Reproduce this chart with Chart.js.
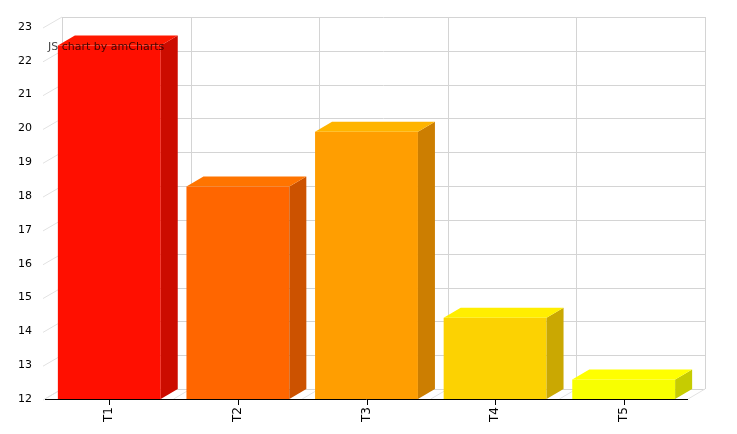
<!DOCTYPE html>
<html>
<head>
<meta charset="utf-8">
<script src="https://cdn.jsdelivr.net/npm/chart.js@4/dist/chart.umd.min.js"></script>
<style>
  html, body { margin: 0; padding: 0; background: #fff; }
  canvas { display: block; }
</style>
</head>
<body>
<canvas id="myChart" width="737" height="434"></canvas>
<script>
const categories = ["T1", "T2", "T3", "T4", "T5"];
const values = [22.45, 18.28, 19.9, 14.4, 12.58];
const yMin = 12;
const yMax = 23;

const frontColors = ["#FF0F00", "#FF6600", "#FF9E01", "#FCD202", "#F8FF01"];
const sideColors = ["#CC0C00", "#CC5200", "#CC7E01", "#CAA802", "#C6CC01"];
const topColors = ["#FF1800", "#FF7400", "#FFB400", "#FFEE00", "#FFFF00"];

const DX = 17, DY = 10;

// back wall, floor and depth grid
const grid3d = {
  id: "grid3d",
  beforeDatasetsDraw(chart) {
    const ctx = chart.ctx;
    const a = chart.chartArea;
    const y = chart.scales.y;
    ctx.save();
    ctx.lineWidth = 1;
    ctx.strokeStyle = "#d4d4d4";
    // horizontal lines on back wall
    for (let v = yMin; v <= yMax; v++) {
      const py = Math.round(y.getPixelForValue(v)) - DY + 0.5;
      ctx.beginPath();
      ctx.moveTo(a.left + DX, py);
      ctx.lineTo(a.right + DX, py);
      ctx.stroke();
    }
    // vertical lines on back wall (category boundaries)
    const step = (a.right - a.left) / categories.length;
    for (let i = 0; i <= categories.length; i++) {
      const px = Math.round(a.left + i * step) + DX + 0.5;
      ctx.beginPath();
      ctx.moveTo(px, a.top - DY);
      ctx.lineTo(px, a.bottom - DY);
      ctx.stroke();
    }
    // floor diagonals
    ctx.strokeStyle = "#e2e2e2";
    for (let i = 0; i <= categories.length; i++) {
      const px = a.left + i * step;
      ctx.beginPath();
      ctx.moveTo(px, a.bottom);
      ctx.lineTo(px + DX, a.bottom - DY);
      ctx.stroke();
    }
    // left depth ticks
    for (let v = yMin; v <= yMax; v++) {
      const py = y.getPixelForValue(v);
      ctx.beginPath();
      ctx.moveTo(a.left - 2, py + 1);
      ctx.lineTo(a.left + DX, py - DY);
      ctx.stroke();
    }
    ctx.restore();
  },
  afterDatasetsDraw(chart) {
    const ctx = chart.ctx;
    const a = chart.chartArea;
    const meta = chart.getDatasetMeta(0);
    const base = chart.scales.y.getPixelForValue(yMin);
    ctx.save();
    meta.data.forEach((bar, i) => {
      const p = bar.getProps(["x", "y", "width"], true);
      const l = p.x - p.width / 2, r = p.x + p.width / 2;
      // side
      ctx.fillStyle = sideColors[i];
      ctx.beginPath();
      ctx.moveTo(r, p.y);
      ctx.lineTo(r + DX, p.y - DY);
      ctx.lineTo(r + DX, base - DY);
      ctx.lineTo(r, base);
      ctx.closePath();
      ctx.fill();
      // top
      ctx.fillStyle = topColors[i];
      ctx.beginPath();
      ctx.moveTo(l, p.y);
      ctx.lineTo(l + DX, p.y - DY);
      ctx.lineTo(r + DX, p.y - DY);
      ctx.lineTo(r, p.y);
      ctx.closePath();
      ctx.fill();
    });
    // x axis line and tick marks
    ctx.strokeStyle = "#000";
    ctx.lineWidth = 1;
    ctx.beginPath();
    ctx.moveTo(a.left, Math.round(a.bottom) + 0.5);
    ctx.lineTo(a.right, Math.round(a.bottom) + 0.5);
    ctx.stroke();
    const x = chart.scales.x;
    categories.forEach((c, i) => {
      const px = Math.round(x.getPixelForValue(i)) + 0.5;
      ctx.beginPath();
      ctx.moveTo(px, a.bottom);
      ctx.lineTo(px, a.bottom + 6);
      ctx.stroke();
    });
    // credit text
    ctx.fillStyle = "rgba(0,0,0,0.75)";
    ctx.font = "11px 'DejaVu Sans', Verdana, sans-serif";
    ctx.textBaseline = "alphabetic";
    ctx.fillText("JS chart by amCharts", 48, 50);
    ctx.restore();
  }
};

new Chart(document.getElementById("myChart"), {
  type: "bar",
  data: {
    labels: categories,
    datasets: [{
      data: values,
      backgroundColor: frontColors,
      borderWidth: 0,
      barPercentage: 0.8,
      categoryPercentage: 1
    }]
  },
  options: {
    responsive: false,
    animation: false,
    devicePixelRatio: 1,
    layout: { padding: { top: 27, right: 49, left: 0, bottom: 0 } },
    plugins: { legend: { display: false }, tooltip: { enabled: false } },
    scales: {
      x: {
        grid: { display: false, drawTicks: false },
        border: { display: false },
        ticks: {
          color: "#000",
          font: { family: "'DejaVu Sans', Verdana, sans-serif", size: 12 },
          minRotation: 90,
          maxRotation: 90,
          padding: 8
        },
        afterFit(scale) { scale.height = 35; }
      },
      y: {
        min: yMin,
        max: yMax,
        grid: { display: false, drawTicks: false },
        border: { display: false },
        ticks: {
          stepSize: 1,
          color: "#000",
          font: { family: "'DejaVu Sans', Verdana, sans-serif", size: 11 },
          padding: 13
        },
        afterFit(scale) { scale.width = 45; }
      }
    }
  },
  plugins: [grid3d]
});
</script>
</body>
</html>
